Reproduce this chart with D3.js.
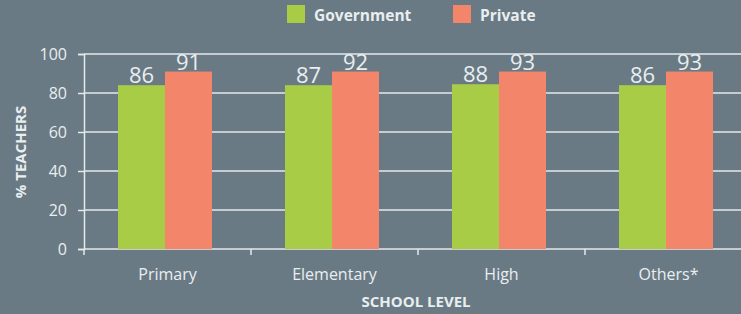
<!DOCTYPE html>
<html>
<head>
<meta charset="utf-8">
<script src="https://cdnjs.cloudflare.com/ajax/libs/d3/7.8.5/d3.min.js"></script>
<style>
body { margin:0; background:#6a7a84; }
svg { display:block; font-family:"Open Sans", sans-serif; }
</style>
</head>
<body>
<div id="chart"></div>
<script>
// chart values
var levels = ["Primary", "Elementary", "High", "Others*"];
var series = ["Government", "Private"];
// bar heights as drawn in the picture
var govValues = [84, 84, 84.5, 84];
var privValues = [91, 91, 91, 91];
// numbers printed over the bars
var govLabels = ["86", "87", "88", "86"];
var privLabels = ["91", "92", "93", "93"];
var yTicks = [0, 20, 40, 60, 80, 100];

var colors = {"Government": "#a8cc45", "Private": "#f3856b"};
var textCol = "#e9eef0";
var lineCol = "#e4e9ec";

var width = 741, height = 314;
var svg = d3.select("#chart").append("svg")
    .attr("width", width)
    .attr("height", height);

var x = d3.scaleBand().domain(levels).range([84, 752]).padding(0);
var xs = d3.scaleBand().domain(series).range([34, 128]).padding(0);
var y = d3.scaleLinear().domain([0, 100]).range([249, 54]);

// gridlines
svg.append("g").selectAll("line").data(yTicks.slice(1)).enter().append("line")
    .attr("x1", 84).attr("x2", width)
    .attr("y1", function(d) { return y(d); })
    .attr("y2", function(d) { return y(d); })
    .attr("stroke", lineCol).attr("stroke-width", 1.5);

// y axis
var yAxis = svg.append("g").attr("transform", "translate(84,0)")
    .call(d3.axisLeft(y).tickValues(yTicks).tickSize(6).tickPadding(11));
yAxis.select(".domain").attr("stroke", lineCol).attr("stroke-width", 1.5);
yAxis.selectAll(".tick line").attr("stroke", lineCol).attr("stroke-width", 1.5);
yAxis.selectAll("text").attr("fill", textCol).style("font-size", "16px")
    .style("font-family", "'Open Sans', sans-serif");

// x axis
var xAxis = svg.append("g").attr("transform", "translate(0,249)");
xAxis.append("line").attr("x1", 84).attr("x2", width)
    .attr("y1", 0).attr("y2", 0)
    .attr("stroke", lineCol).attr("stroke-width", 1.5);
xAxis.selectAll(".tk").data(levels).enter().append("line")
    .attr("x1", function(d) { return x(d); })
    .attr("x2", function(d) { return x(d); })
    .attr("y1", 0).attr("y2", 6)
    .attr("stroke", lineCol).attr("stroke-width", 1.5);
xAxis.selectAll("text").data(levels).enter().append("text")
    .attr("x", function(d) { return x(d) + x.bandwidth() / 2; })
    .attr("y", 31)
    .attr("text-anchor", "middle")
    .attr("fill", textCol)
    .style("font-size", "16px")
    .text(function(d) { return d; });

// bars
var rows = levels.map(function(l, i) {
    return [
        {level: l, s: "Government", v: govValues[i], label: govLabels[i]},
        {level: l, s: "Private", v: privValues[i], label: privLabels[i]}
    ];
});
var groups = svg.selectAll(".grp").data(rows).enter().append("g")
    .attr("transform", function(d) { return "translate(" + x(d[0].level) + ",0)"; });
groups.selectAll("rect").data(function(d) { return d; }).enter().append("rect")
    .attr("x", function(d) { return xs(d.s); })
    .attr("y", function(d) { return y(d.v); })
    .attr("width", xs.bandwidth())
    .attr("height", function(d) { return y(0) - y(d.v); })
    .attr("fill", function(d) { return colors[d.s]; });
groups.selectAll(".val").data(function(d) { return d; }).enter().append("text")
    .attr("x", function(d) { return xs(d.s) + xs.bandwidth() / 2; })
    .attr("y", function(d) { return y(d.v) - 2; })
    .attr("text-anchor", "middle")
    .attr("fill", textCol)
    .style("font-size", "22px")
    .text(function(d) { return d.label; });

// legend
var legX = [287, 453];
var leg = svg.selectAll(".leg").data(series).enter().append("g")
    .attr("transform", function(d, i) { return "translate(" + legX[i] + ",5)"; });
leg.append("rect").attr("width", 18).attr("height", 18)
    .attr("fill", function(d) { return colors[d]; });
leg.append("text").attr("x", 27).attr("y", 16)
    .attr("fill", textCol)
    .style("font-size", "15.5px").style("font-weight", "bold")
    .text(function(d) { return d; });

// axis titles
svg.append("text")
    .attr("x", 416).attr("y", 307)
    .attr("text-anchor", "middle")
    .attr("fill", textCol)
    .style("font-size", "15px").style("font-weight", "bold")
    .text("SCHOOL LEVEL");
svg.append("text")
    .attr("transform", "translate(26,152) rotate(-90)")
    .attr("text-anchor", "middle")
    .attr("fill", textCol)
    .style("font-size", "15px").style("font-weight", "bold")
    .text("% TEACHERS");
</script>
</body>
</html>
